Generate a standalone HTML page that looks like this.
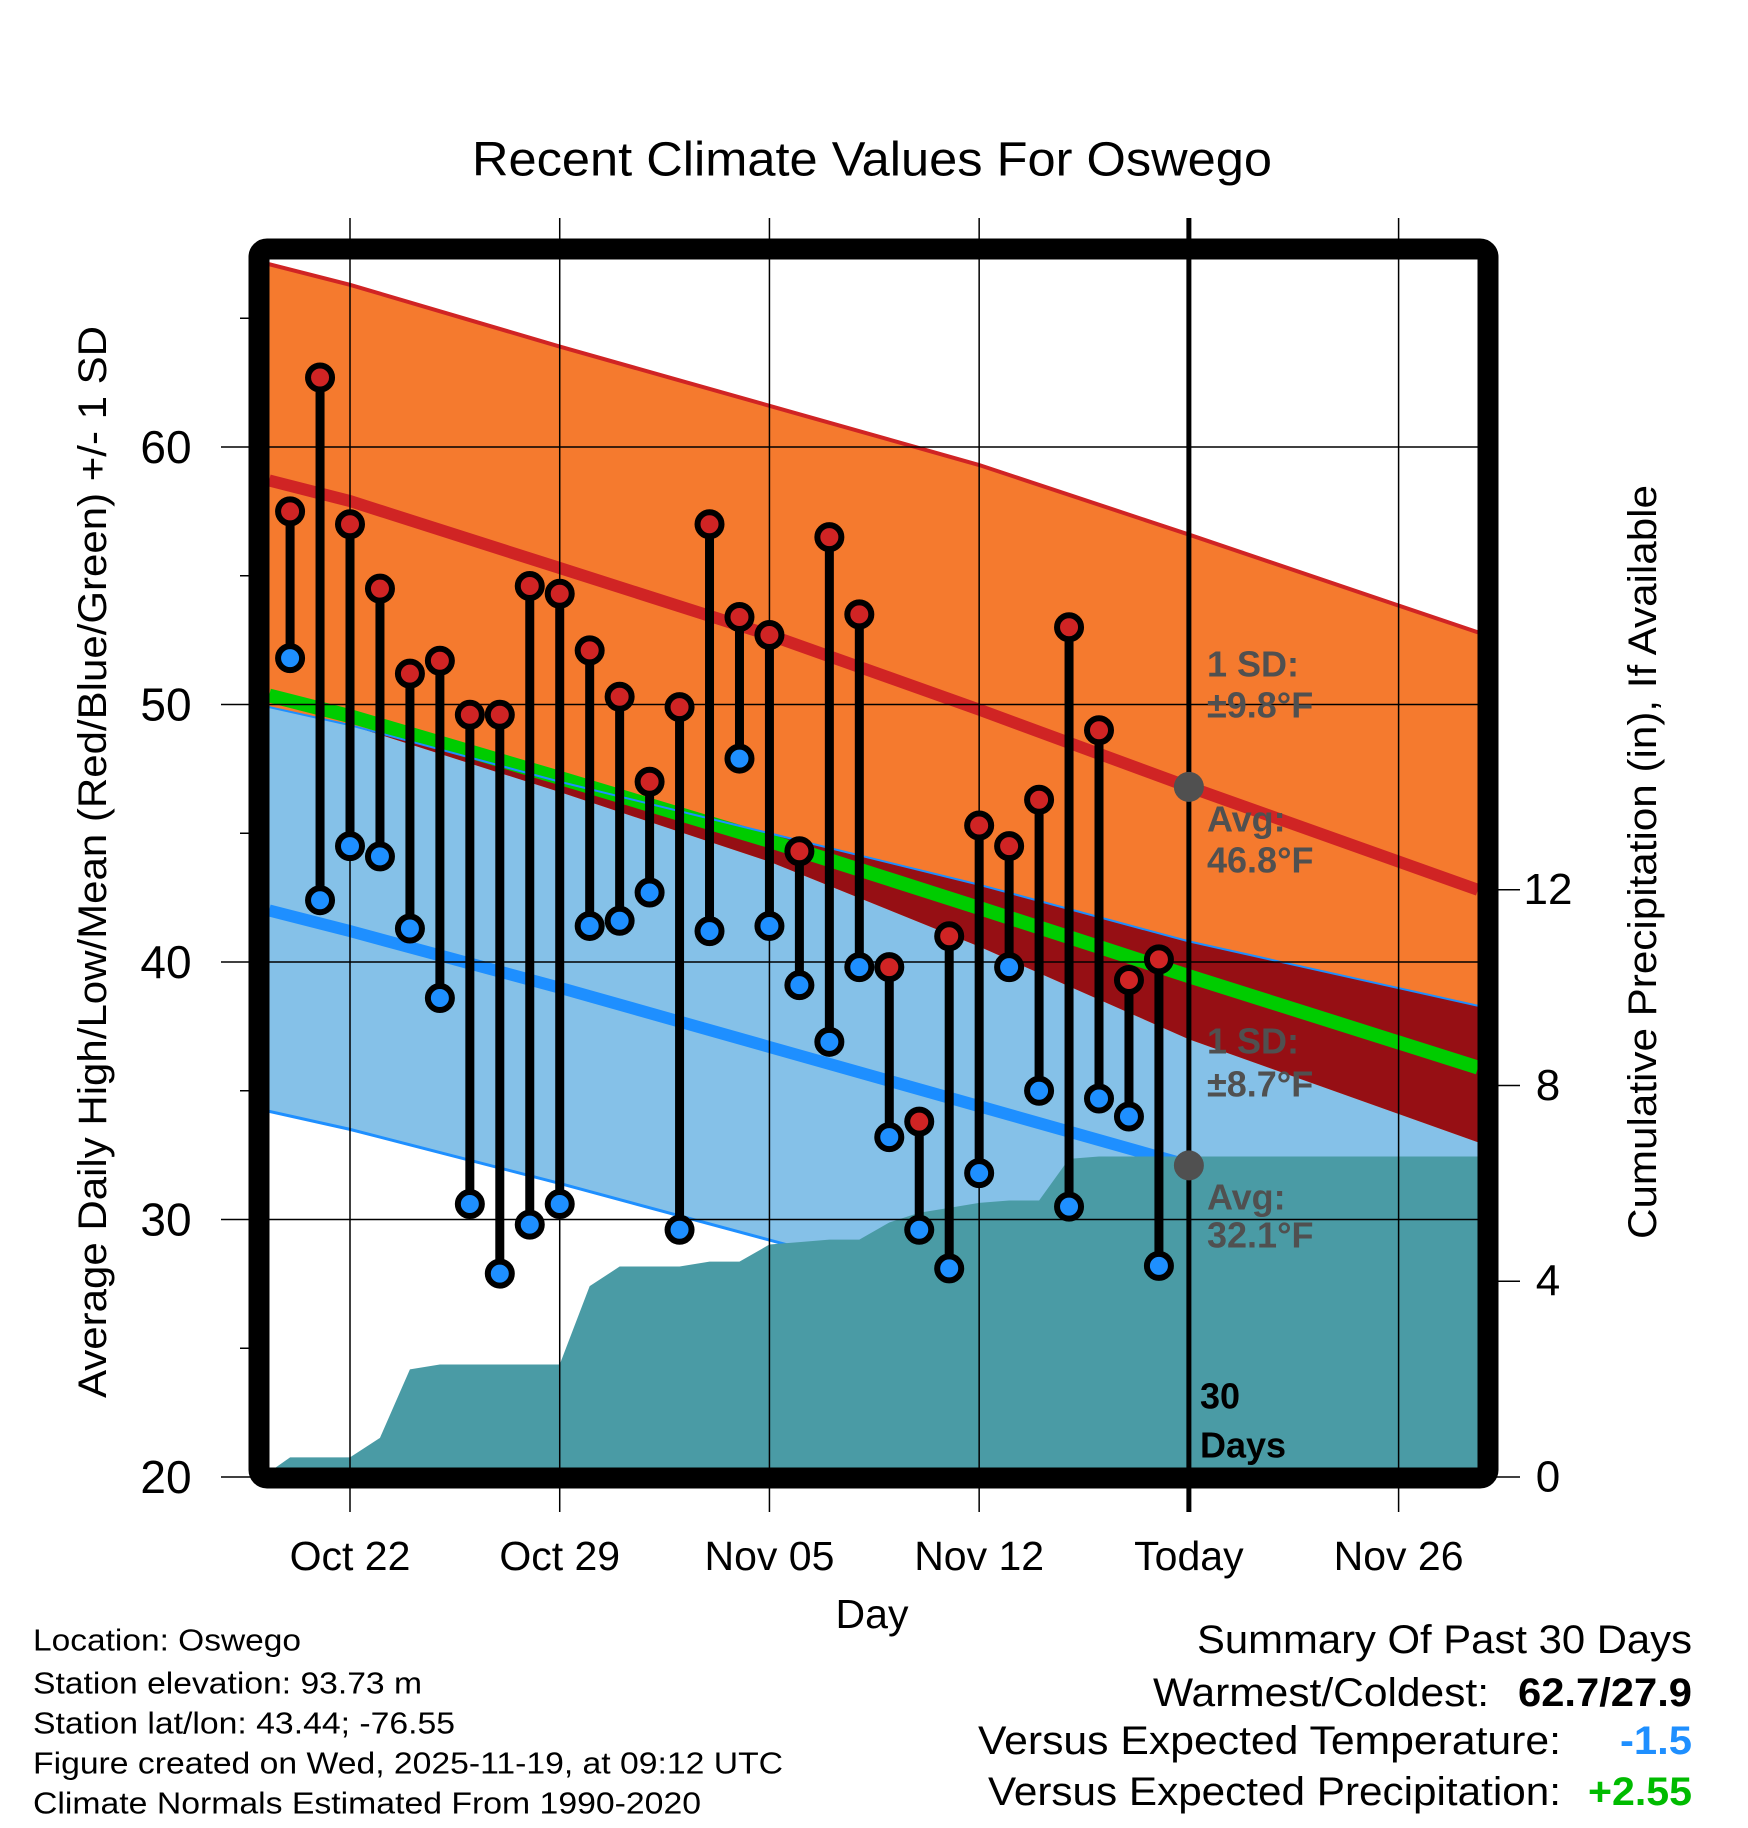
<!DOCTYPE html>
<html><head><meta charset="utf-8"><style>
html,body{margin:0;padding:0;background:#fff;}
svg{display:block;font-family:"Liberation Sans",sans-serif;}
</style></head><body>
<svg id="chart" width="1748" height="1828" viewBox="0 0 1748 1828" xmlns="http://www.w3.org/2000/svg">
<g id="plot"></g>
<g id="labels"></g>
</svg>
<script>
// ---- data ----
const dayOffsets = [-2,-1,0,1,2,3,4,5,6,7,8,9,10,11,12,13,14,15,16,17,18,19,20,21,22,23,24,25,26,27]; // days from Oct 22
const highs = [57.5,62.7,57.0,54.5,51.2,51.7,49.6,49.6,54.6,54.3,52.1,50.3,47.0,49.9,57.0,53.4,52.7,44.3,56.5,53.5,39.8,33.8,41.0,45.3,44.5,46.3,53.0,49.0,39.3,40.1];
const lows = [51.8,42.4,44.5,44.1,41.3,38.6,30.6,27.9,29.8,30.6,41.4,41.6,42.7,29.6,41.2,47.9,41.4,39.1,36.9,39.8,33.2,29.6,28.1,31.8,39.8,35.0,30.5,34.7,34.0,28.2];
const precip = [0.4,0.4,0.4,0.8,2.2,2.3,2.3,2.3,2.3,2.3,3.9,4.3,4.3,4.3,4.4,4.4,4.75,4.8,4.85,4.85,5.2,5.4,5.5,5.6,5.65,5.65,6.5,6.55,6.55,6.55];
const normDays = [-2.7, 0, 7, 14, 21, 28, 37.65];
const hiUp     = [67.1, 66.3, 63.9, 61.6, 59.3, 56.6, 52.8];
const normHigh = [58.7, 57.9, 55.3, 52.7, 49.8, 46.8, 42.8];
const hiDn     = [49.9, 49.2, 46.6, 43.9, 40.6, 37.0, 33.0];
const loUp     = [49.9, 49.2, 47.0, 45.0, 43.0, 40.8, 38.3];
const normLow  = [42.0, 41.2, 39.0, 36.7, 34.4, 32.1, 29.0];
const loDn     = [34.2, 33.5, 31.4, 29.2, 27.0, 24.8, 21.8];
const xTickDays = [0,7,14,21,28,35];
const xTickLabels = ["Oct 22","Oct 29","Nov 05","Nov 12","Today","Nov 26"];
const yTicks = [20,30,40,50,60];
const yMinor = [25,35,45,55,65];
const pTicks = [0,4,8,12];

// ---- axes ----
const X = d => 350 + d*29.96;
const Y = t => 1477 - (t-20)*25.75;
const P = p => 1477 - p*48.94;
const NS = "http://www.w3.org/2000/svg";
const plot = document.getElementById('plot');
const labels = document.getElementById('labels');
function mk(tag, attrs, parent){const e=document.createElementNS(NS,tag);for(const k in attrs)e.setAttribute(k,attrs[k]);parent.appendChild(e);return e;}

const defs = mk('defs',{},plot);
const cp = mk('clipPath',{id:'clip'},defs);
mk('rect',{x:269,y:260,width:1209,height:1208},cp);
const inner = mk('g',{'clip-path':'url(#clip)'},plot);

function band(lowArr, highArr){
  const top = normDays.map((d,i)=>X(d)+','+Y(highArr[i]));
  const bot = normDays.map((d,i)=>X(d)+','+Y(lowArr[i])).reverse();
  return top.concat(bot).join(' ');
}
const mean = normHigh.map((v,i)=>(v+normLow[i])/2);

let e;
e = mk('polygon',{points:band(loDn,loUp),fill:'#85c1e8'},inner);
 
e = mk('polygon',{points:band(hiDn,hiUp),fill:'#f57a2e'},inner);
 
e = mk('polygon',{points:band(hiDn,loUp),fill:'#960f14'},inner);
 

function line(arr, color, w, name){
  const el = mk('polyline',{points:normDays.map((d,i)=>X(d)+','+Y(arr[i])).join(' '),fill:'none',stroke:color,'stroke-width':w},inner);
  
  
}
line(mean,'#00cc00',14,'normal-mean-line');
line(loUp,'#1e8fff',2,'low-upper-sd-line');
line(loDn,'#1e8fff',3,'low-lower-sd-line');
line(hiUp,'#d02424',4,'high-upper-sd-line');
line(normHigh,'#d02424',12,'normal-high-line');
line(normLow,'#1e8fff',12,'normal-low-line');

let pts = [X(normDays[0])+','+P(0), X(normDays[0])+','+P(0.1)];
dayOffsets.forEach((d,i)=>pts.push(X(d)+','+P(precip[i])));
pts.push(X(normDays[normDays.length-1])+','+P(precip[precip.length-1]));
pts.push(X(normDays[normDays.length-1])+','+P(0));
e = mk('polygon',{points:pts.join(' '),fill:'#4a9ba5'},inner);
 

xTickDays.forEach((d,i)=>{
  const g = mk('line',{x1:X(d),x2:X(d),y1:218,y2:1512,stroke:'#000','stroke-width':i===4?5:1.5},plot);
  
  
  const t = mk('text',{x:X(d),y:1556,'font-size':41,'text-anchor':'middle','dominant-baseline':'central'},labels);
  t.textContent = xTickLabels[i];
  
  
});
yTicks.forEach(v=>{
  const g = mk('line',{x1:221,x2:1478,y1:Y(v),y2:Y(v),stroke:'#000','stroke-width':1.5},plot);
  
  
  const t = mk('text',{x:166,y:Y(v),'font-size':46,'text-anchor':'middle','dominant-baseline':'central'},labels);
  t.textContent = v;
  
  
});
yMinor.forEach(v=>{
  const g = mk('line',{x1:240,x2:260,y1:Y(v),y2:Y(v),stroke:'#000','stroke-width':1.5},plot);
  
  
});
pTicks.forEach(v=>{
  const g = mk('line',{x1:1478,x2:1520,y1:P(v),y2:P(v),stroke:'#000','stroke-width':1.5},plot);
  
  
  const t = mk('text',{x:1548,y:P(v),'font-size':44,'text-anchor':'middle','dominant-baseline':'central'},labels);
  t.textContent = v;
  
  
});

dayOffsets.forEach((d,i)=>{
  const s = mk('line',{x1:X(d),x2:X(d),y1:Y(highs[i]),y2:Y(lows[i]),stroke:'#000','stroke-width':9},plot);
  
  
});
dayOffsets.forEach((d,i)=>{
  const h = mk('circle',{cx:X(d),cy:Y(highs[i]),r:12,fill:'#d02424',stroke:'#000','stroke-width':6},plot);
  
  
  const l = mk('circle',{cx:X(d),cy:Y(lows[i]),r:12,fill:'#1e8fff',stroke:'#000','stroke-width':6},plot);
  
  
});
e = mk('circle',{cx:X(28),cy:Y(normHigh[5]),r:15,fill:'#505050'},plot);
 
e = mk('circle',{cx:X(28),cy:Y(normLow[5]),r:15,fill:'#505050'},plot);
 

e = mk('rect',{x:259,y:249,width:1229,height:1229,fill:'none',stroke:'#000','stroke-width':21,rx:8},plot);
 
</script>
<svg style="position:absolute;left:0;top:0" width="1748" height="1828" xmlns="http://www.w3.org/2000/svg" font-family="Liberation Sans, sans-serif">
<text x="872" y="160" font-size="48" text-anchor="middle" dominant-baseline="central" textLength="800" lengthAdjust="spacingAndGlyphs">Recent Climate Values For Oswego</text>
<text x="872" y="1614" font-size="41" text-anchor="middle" dominant-baseline="central">Day</text>
<text x="0" y="0" font-size="40" text-anchor="middle" dominant-baseline="central" transform="translate(93,862) rotate(-90)" textLength="1072" lengthAdjust="spacingAndGlyphs">Average Daily High/Low/Mean (Red/Blue/Green) +/- 1 SD</text>
<text x="0" y="0" font-size="40" text-anchor="middle" dominant-baseline="central" transform="translate(1643,862) rotate(-90)" textLength="754" lengthAdjust="spacingAndGlyphs">Cumulative Precipitation (in), If Available</text>
<g font-size="36" font-weight="bold" fill="#505050" dominant-baseline="central">
<text x="1207" y="664">1 SD:</text>
<text x="1207" y="705">±9.8°F</text>
<text x="1207" y="819">Avg:</text>
<text x="1207" y="860">46.8°F</text>
<text x="1207" y="1041">1 SD:</text>
<text x="1207" y="1084">±8.7°F</text>
<text x="1207" y="1197">Avg:</text>
<text x="1207" y="1235">32.1°F</text>
<text x="1200" y="1396" fill="#000">30</text>
<text x="1200" y="1445" fill="#000">Days</text>
</g>
<g font-size="31" dominant-baseline="central" lengthAdjust="spacingAndGlyphs">
<text x="33" y="1640" textLength="268" lengthAdjust="spacingAndGlyphs">Location: Oswego</text>
<text x="33" y="1683" textLength="389" lengthAdjust="spacingAndGlyphs">Station elevation: 93.73 m</text>
<text x="33" y="1723" textLength="422" lengthAdjust="spacingAndGlyphs">Station lat/lon: 43.44; -76.55</text>
<text x="33" y="1763" textLength="750" lengthAdjust="spacingAndGlyphs">Figure created on Wed, 2025-11-19, at 09:12 UTC</text>
<text x="33" y="1803" textLength="668" lengthAdjust="spacingAndGlyphs">Climate Normals Estimated From 1990-2020</text>
</g>
<g font-size="40" dominant-baseline="central" text-anchor="end">
<text x="1692" y="1640" textLength="495" lengthAdjust="spacingAndGlyphs">Summary Of Past 30 Days</text>
<text x="1489" y="1693" textLength="336" lengthAdjust="spacingAndGlyphs">Warmest/Coldest:</text>
<text x="1692" y="1693" font-weight="bold" textLength="174" lengthAdjust="spacingAndGlyphs">62.7/27.9</text>
<text x="1561" y="1741" textLength="583" lengthAdjust="spacingAndGlyphs">Versus Expected Temperature:</text>
<text x="1692" y="1741" font-weight="bold" fill="#1e8fff" textLength="72" lengthAdjust="spacingAndGlyphs">-1.5</text>
<text x="1561" y="1792" textLength="573" lengthAdjust="spacingAndGlyphs">Versus Expected Precipitation:</text>
<text x="1692" y="1792" font-weight="bold" fill="#00bb00" textLength="104" lengthAdjust="spacingAndGlyphs">+2.55</text>
</g>
</svg>
</body></html>
